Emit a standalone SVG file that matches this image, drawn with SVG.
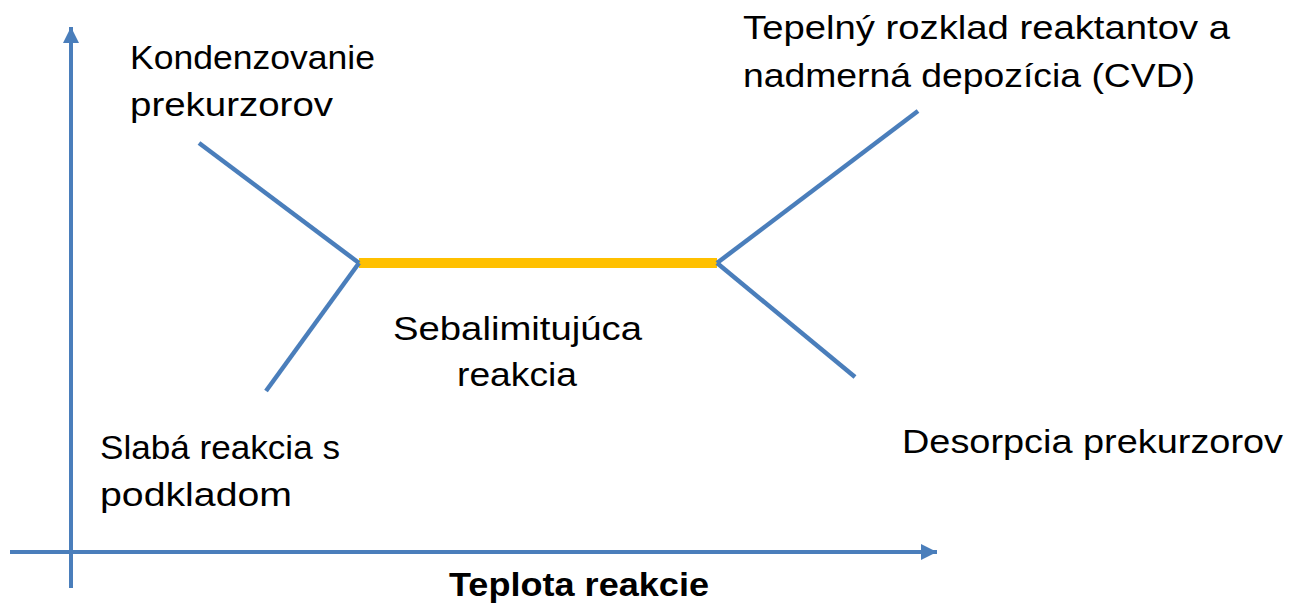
<svg xmlns="http://www.w3.org/2000/svg" width="1289" height="605" viewBox="0 0 1289 605">
<style>
.t{font-family:"Liberation Sans",Arial,sans-serif;font-size:34px;fill:#000}
.b{font-weight:bold}
.ax{stroke:#4a7ebb;stroke-width:4;fill:none}
.ln{stroke:#4a7ebb;stroke-width:4.5;fill:none}
.y{stroke:#ffc000;stroke-width:10;fill:none}
</style>
<defs>
<marker id="ah" markerUnits="userSpaceOnUse" markerWidth="18" markerHeight="18" refX="16" refY="8" orient="auto">
<path d="M0,0 L16,8 L0,16 Z" fill="#4a7ebb"/>
</marker>
</defs>
<g id="connectors">
<line class="ax" x1="71" y1="588" x2="71" y2="27" marker-end="url(#ah)"/>
<line class="ax" x1="10" y1="552" x2="937" y2="552" marker-end="url(#ah)"/>
<line class="y" x1="359" y1="263" x2="717" y2="263"/>
<line class="ln" x1="199" y1="143" x2="359" y2="263"/>
<line class="ln" x1="359" y1="263" x2="266" y2="391"/>
<line class="ln" x1="717" y1="263" x2="918" y2="111"/>
<line class="ln" x1="717" y1="263" x2="855" y2="377"/>
</g>
<g id="n-kondenzovanie">
<text class="t" x="130" y="69" textLength="245" lengthAdjust="spacingAndGlyphs">Kondenzovanie</text>
<text class="t" x="130" y="116" textLength="203" lengthAdjust="spacingAndGlyphs">prekurzorov</text>
</g>
<g id="n-tepelny">
<text class="t" x="743" y="39" textLength="487" lengthAdjust="spacingAndGlyphs">Tepelný rozklad reaktantov a</text>
<text class="t" x="743" y="87" textLength="452" lengthAdjust="spacingAndGlyphs">nadmerná depozícia (CVD)</text>
</g>
<g id="n-sebalimitujuca">
<text class="t" x="393" y="340" textLength="249" lengthAdjust="spacingAndGlyphs">Sebalimitujúca</text>
<text class="t" x="457" y="386" textLength="120" lengthAdjust="spacingAndGlyphs">reakcia</text>
</g>
<g id="n-slaba">
<text class="t" x="100" y="459" textLength="240" lengthAdjust="spacingAndGlyphs">Slabá reakcia s</text>
<text class="t" x="100" y="506" textLength="192" lengthAdjust="spacingAndGlyphs">podkladom</text>
</g>
<g id="n-desorpcia">
<text class="t" x="902" y="453" textLength="381" lengthAdjust="spacingAndGlyphs">Desorpcia prekurzorov</text>
</g>
<g id="n-axis-label">
<text class="t b" x="449" y="596" textLength="260" lengthAdjust="spacingAndGlyphs">Teplota reakcie</text>
</g>
</svg>
